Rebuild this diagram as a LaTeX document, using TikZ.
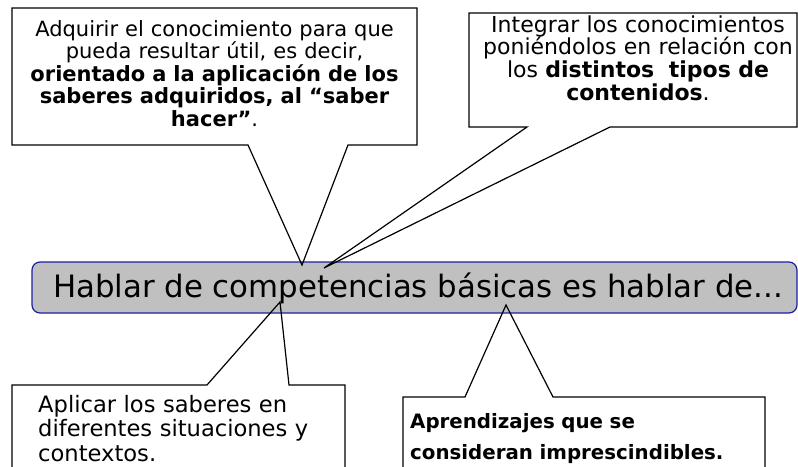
\documentclass[tikz,border=0pt]{standalone}
\usepackage{fontspec}
\setmainfont{DejaVu Sans}
\definecolor{boxgray}{RGB}{192,192,192}
\definecolor{boxblue}{RGB}{30,30,160}
\tikzset{
  callline/.style={draw=black, line width=1.2pt, line join=miter},
  txt/.style={inner sep=0pt, anchor=base},
  mainbox/.style={draw=boxblue, fill=boxgray, line width=1.2pt, rounded corners=8pt}
}
\begin{document}
\begin{tikzpicture}[x=1pt,y=-1pt]
\useasboundingbox (0,0) rectangle (798,466);
\clip (0,0) rectangle (798,466);
% main box
\path[mainbox] (32,262) rectangle (797,313);
\node[txt, font=\fontsize{30.8}{36}\selectfont] (main) at (418,297) {Hablar de competencias básicas es hablar de...};
% tips
\coordinate (tip1) at (302,265);
\coordinate (tip2) at (324,268);
\coordinate (tip3) at (280,302);
\coordinate (tip4) at (506,305);
% callout 1
\draw[callline] (248,145) -- (12,145) -- (12,8) -- (417,8) -- (417,145) -- (348,145) -- (tip1) -- cycle;
\node[txt, text width=400pt, align=center, font=\fontsize{21}{22.5}\selectfont] (c1) at (214.5,36)
  {Adquirir el conocimiento para que\\ pueda resultar útil, es decir,\\ \textbf{orientado a la aplicación de los}\\ \textbf{saberes adquiridos, al “saber}\\ \textbf{hacer”}.};
% callout 2
\draw[callline] (527,127) -- (469,127) -- (469,13) -- (797,13) -- (797,127) -- (610,127) -- (tip2) -- cycle;
\node[txt, text width=330pt, align=center, font=\fontsize{22}{22.7}\selectfont] (c2) at (638,32)
  {Integrar los conocimientos\\ poniéndolos en relación con\\ los \textbf{distintos~ tipos de}\\ \textbf{contenidos}.};
% callout 3
\draw[callline] (207,385) -- (12,385) -- (12,480) -- (345,480) -- (345,385) -- (289,385) -- (tip3) -- cycle;
\node[txt, anchor=base west, text width=300pt, align=left, font=\fontsize{22.6}{24.5}\selectfont] (c3) at (38,412)
  {Aplicar los saberes en\\ diferentes situaciones y\\ contextos.};
% callout 4
\draw[callline] (465,397) -- (403,397) -- (403,480) -- (765,480) -- (765,397) -- (553,397) -- (tip4) -- cycle;
\node[txt, anchor=base west, text width=350pt, align=left, font=\fontsize{19.8}{31}\selectfont\bfseries] (c4) at (410,428)
  {Aprendizajes que se\\ consideran imprescindibles.};
\end{tikzpicture}
\end{document}
